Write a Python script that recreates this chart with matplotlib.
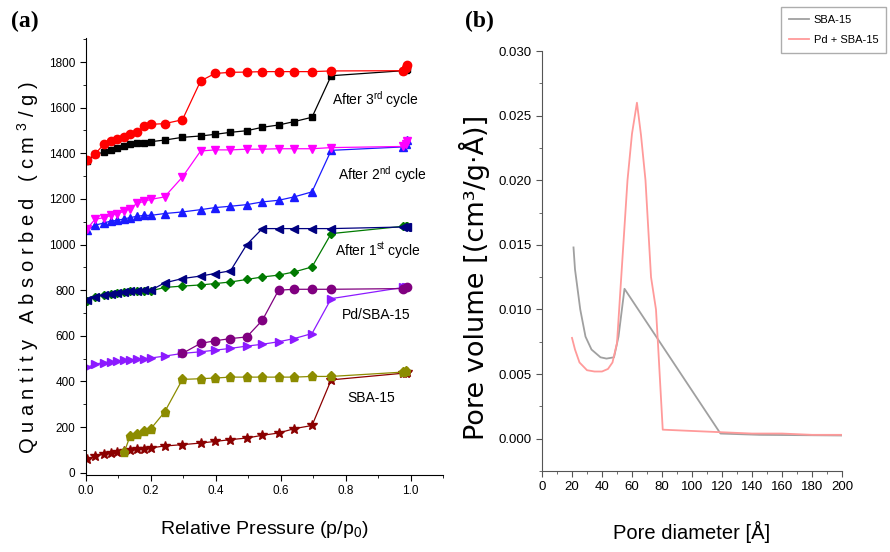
import matplotlib
matplotlib.use('Agg')
import matplotlib.pyplot as plt
from matplotlib.ticker import MultipleLocator

# ==============================
# DATA - panel (a) isotherms
# ==============================

# common pressure grid of the upper branches
p_grid = [0.004, 0.028, 0.056, 0.077, 0.097, 0.118, 0.136, 0.157, 0.180, 0.200,
          0.242, 0.297, 0.353, 0.397, 0.445, 0.495, 0.543, 0.593, 0.641, 0.696,
          0.755, 0.976, 0.985, 0.990]

# After 3rd cycle
c3_ads = [1365, 1397, 1404, 1415, 1422, 1432, 1439, 1444, 1447, 1451,
          1458, 1470, 1476, 1483, 1492, 1499, 1514, 1524, 1539, 1558,
          1740, 1762, 1765, 1770]
c3_des = [1371, 1397, 1441, 1453, 1461, 1472, 1483, 1493, 1518, 1527,
          1530, 1547, 1717, 1750, 1755, 1756, 1758, 1758, 1758, 1758,
          1761, 1762, 1772, 1787]

# After 2nd cycle
c2_ads = [1065, 1085, 1095, 1103, 1106, 1113, 1118, 1124, 1128, 1128,
          1136, 1143, 1153, 1162, 1168, 1175, 1187, 1194, 1209, 1231,
          1413, 1428, 1440, 1460]
c2_des = [1070, 1111, 1118, 1128, 1136, 1146, 1158, 1180, 1190, 1198,
          1209, 1296, 1410, 1415, 1415, 1418, 1418, 1420, 1420, 1420,
          1425, 1430, 1440, 1455]

# After 1st cycle
c1_ads = [753, 771, 781, 785, 788, 793, 796, 797, 797, 797,
          812, 818, 823, 829, 836, 847, 858, 866, 880, 902,
          1048, 1080, 1080, 1080]
c1_des = [756, 771, 781, 785, 788, 793, 796, 797, 800, 800,
          832, 851, 862, 873, 885, 1000, 1070, 1070, 1070, 1070,
          1070, 1077, 1077, 1077]

# Pd/SBA-15
pd_ads = [462, 476, 483, 486, 489, 493, 496, 497, 500, 503,
          511, 523, 530, 537, 545, 555, 563, 574, 588, 610,
          763, 812, 812, 815]
pd_des_p = [0.297, 0.353, 0.397, 0.445, 0.495, 0.543, 0.593, 0.641, 0.696,
            0.755, 0.976, 0.990]
pd_des = [523, 567, 578, 588, 595, 668, 800, 804, 804, 804, 807, 815]

# SBA-15
sba_ads = [58, 72, 83, 88, 91, 93, 98, 102, 105, 109,
           117, 123, 130, 137, 145, 152, 164, 174, 193, 207,
           407, 436, 438, 441]
sba_des_p = [0.118, 0.136, 0.157, 0.180, 0.200, 0.242, 0.297, 0.353, 0.397,
             0.445, 0.495, 0.543, 0.593, 0.641, 0.696, 0.755, 0.976, 0.985]
sba_des = [91, 161, 171, 181, 193, 266, 409, 412, 415, 419, 419, 419, 419,
           419, 422, 422, 441, 448]

curve_labels = ["After 3$^{\\mathrm{rd}}$ cycle", "After 2$^{\\mathrm{nd}}$ cycle",
                "After 1$^{\\mathrm{st}}$ cycle", "Pd/SBA-15", "SBA-15"]

# ==============================
# DATA - panel (b) pore size distribution
# ==============================

sba_d = [21, 22, 25.5, 29, 33, 39, 43, 48, 51, 55, 119, 145, 200]
sba_v = [0.0148, 0.0131, 0.0100, 0.0079, 0.0069, 0.0063, 0.0062, 0.0063,
         0.0079, 0.0116, 0.0004, 0.0003, 0.00025]

pdsba_d = [20, 22, 25, 30, 35, 40, 44, 47, 50, 52, 54.5, 57, 60, 63.3, 66,
           69, 72.7, 76, 77.5, 80.5, 100, 120, 140, 160, 180, 200]
pdsba_v = [0.0078, 0.0069, 0.0059, 0.0053, 0.0052, 0.0052, 0.0054, 0.0059,
           0.0074, 0.0110, 0.0155, 0.0200, 0.0236, 0.0260, 0.0235, 0.0200,
           0.0125, 0.0100, 0.0070, 0.0007, 0.0006, 0.0005, 0.0004, 0.0004,
           0.0003, 0.0003]

# ==============================
# FIGURE
# ==============================

plt.rcParams['font.family'] = ['Liberation Sans', 'DejaVu Sans']
plt.rcParams['mathtext.fontset'] = 'custom'
plt.rcParams['mathtext.rm'] = 'Liberation Sans'

fig = plt.figure(figsize=(8.9, 5.52), dpi=100)
ax1 = fig.add_axes([0.0966, 0.1395, 0.4014, 0.7915])
ax2 = fig.add_axes([0.609, 0.1467, 0.337, 0.7609])

ms = 5
lw = 0.9
ax1.plot(p_grid, c3_ads, '-s', color='black', ms=ms, lw=lw)
ax1.plot(p_grid, c3_des, '-o', color='#ff0000', ms=ms + 1, lw=lw)
ax1.plot(p_grid, c2_ads, '-^', color='#1a1aff', ms=ms + 0.5, lw=lw)
ax1.plot(p_grid, c2_des, '-v', color='#ff00ff', ms=ms + 0.5, lw=lw)
ax1.plot(p_grid, c1_ads, '-D', color='#007a00', ms=ms - 0.5, lw=lw)
ax1.plot(p_grid, c1_des, '-<', color='#000080', ms=ms + 0.5, lw=lw)
ax1.plot(p_grid, pd_ads, '->', color='#8c1aff', ms=ms + 0.5, lw=lw)
ax1.plot(pd_des_p, pd_des, '-o', color='#800080', ms=ms + 1, lw=lw)
ax1.plot(p_grid, sba_ads, '-*', color='#8b0000', ms=ms + 2.5, lw=lw)
ax1.plot(sba_des_p, sba_des, '-p', color='#8c8c00', ms=ms + 1.5, lw=lw)

label_pos = [(0.89, 1634), (0.914, 1305), (0.898, 972), (0.894, 693), (0.878, 328)]
for txt, (x, y) in zip(curve_labels, label_pos):
    ax1.text(x, y, txt, ha='center', va='center', fontsize=10)

ax1.set_xlim(0, 1.1)
ax1.set_ylim(-10, 1905)
ax1.xaxis.set_minor_locator(MultipleLocator(0.1))
ax1.yaxis.set_minor_locator(MultipleLocator(100))
ax1.set_xticks([0, 0.2, 0.4, 0.6, 0.8, 1.0])
ax1.set_xticklabels(['0.0', '0.2', '0.4', '0.6', '0.8', '1.0'])
ax1.set_yticks(range(0, 1801, 200))
for s in ['top', 'right']:
    ax1.spines[s].set_visible(False)
ax1.tick_params(which='major', length=4, labelsize=8.5)
ax1.tick_params(which='minor', length=2)
ax1.set_xlabel("Relative Pressure (p/p$_0$)", fontsize=14)
ax1.xaxis.set_label_coords(0.5, -0.10)
ax1.set_ylabel("Q u a n t i t y   A b s o r b e d   ( c m $^{3}$ / g )", fontsize=14.5)
ax1.yaxis.set_label_coords(-0.125, 0.474)

ax2.plot(sba_d, sba_v, color='#a0a0a0', lw=1.3, label='SBA-15')
ax2.plot(pdsba_d, pdsba_v, color='#ff9a9a', lw=1.3, label='Pd + SBA-15')
ax2.set_xlim(0, 200)
ax2.set_ylim(-0.0025, 0.030)
ax2.xaxis.set_major_locator(MultipleLocator(20))
ax2.xaxis.set_minor_locator(MultipleLocator(10))
ax2.set_yticks([0, 0.005, 0.010, 0.015, 0.020, 0.025, 0.030])
ax2.set_yticklabels(['0.000', '0.005', '0.010', '0.015', '0.020', '0.025', '0.030'])
ax2.yaxis.set_minor_locator(MultipleLocator(0.0025))
for s in ['top', 'right']:
    ax2.spines[s].set_visible(False)
for s in ['left', 'bottom']:
    ax2.spines[s].set_color('#555555')
ax2.tick_params(which='major', length=4, labelsize=9.5, color='#555555')
ax2.tick_params(which='minor', length=2, color='#555555')
ax2.set_xlabel("Pore diameter [Å]", fontsize=14.5)
ax2.xaxis.set_label_coords(0.5, -0.12)
ax2.set_ylabel("Pore volume [(cm³/g·Å)]", fontsize=19.5, family='DejaVu Sans')
ax2.yaxis.set_label_coords(-0.172, 0.46)

fig.legend(loc='upper right', bbox_to_anchor=(886 / 890, 1 - 7 / 552),
           fontsize=8, frameon=True, fancybox=False, edgecolor='#999999',
           handlelength=1.8, borderpad=0.7, labelspacing=0.9, borderaxespad=0,
           handletextpad=0.4)

fig.text(0.012, 0.962, "(a)", fontsize=17, fontweight='bold', family='Liberation Serif',
         va='center')
fig.text(0.522, 0.962, "(b)", fontsize=17, fontweight='bold', family='Liberation Serif',
         va='center')

fig.savefig("out.png", dpi=100)
print("Done.")
